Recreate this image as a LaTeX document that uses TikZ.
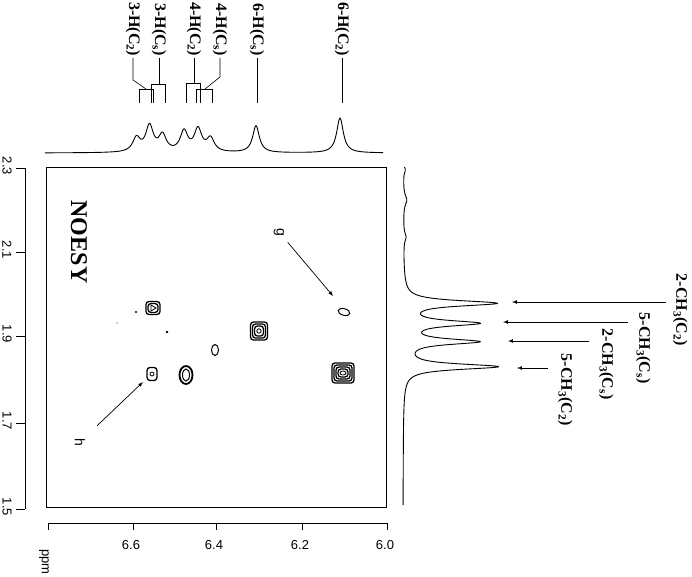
\documentclass[tikz,border=0pt]{standalone}
\usepackage{fontspec}
\setmainfont{Liberation Serif}
\setsansfont{Liberation Sans}
\tikzset{%
  lbl/.style = {rotate=-90, inner sep=1.5pt,
    font=\bfseries\fontsize{16}{19}\selectfont},
  num/.style = {inner sep=0pt, font=\sffamily\fontsize{13}{15}\selectfont},
  let/.style = {inner sep=3pt, rotate=-90, font=\sffamily\fontsize{14}{16}\selectfont},
  spec/.style = {line width=0.9pt, line join=round},
  ct/.style = {line width=1.3pt, rounded corners=3pt},
  arr/.style = {draw,-latex,line width=0.7pt}
}

\begin{document}
\begin{tikzpicture}[x=1pt,y=-1pt,line width=0.8pt,
  declare function={lz(\pos,\cen,\amp,\wid)=\amp/(1+((\pos-\cen)/\wid)^2);}]
\path[fill=white,use as bounding box] (0,0) rectangle (692,577);

% 1D spectrum on top
\draw[spec] plot[domain=45:383, samples=339] (\x, {153 - lz(\x,136.5,14,4.5)
  - lz(\x,149.5,26,4.5) - lz(\x,162.5,16.5,4.5) - lz(\x,184,20.5,4.5)
  - lz(\x,198,22.5,4.5) - lz(\x,210.5,13.5,4.5) - lz(\x,256,27,4) - lz(\x,340,35,4)});

% 1D spectrum on the right
\draw[spec] plot[variable=\t, domain=167:505, samples=677] ({403 + lz(\t,303.3,92,3.3)
  + lz(\t,323.3,72.5,3.3) + lz(\t,341.7,73,3.3) + lz(\t,366.7,94,3.3)
  + lz(\t,170,2,4) + lz(\t,200,3.5,6) + lz(\t,237,2.5,5)}, \t);

% labels on top
\node[lbl, anchor=east] (h3c2) at (133,58) {3-H(C\textsubscript{2})};
\node[lbl, anchor=east] (h3cs) at (159,58) {3-H(C\textsubscript{s})};
\node[lbl, anchor=east] (h4c2) at (194,58) {4-H(C\textsubscript{2})};
\node[lbl, anchor=east] (h4cs) at (220,58) {4-H(C\textsubscript{s})};
\node[lbl, anchor=east] (h6cs) at (257,58) {6-H(C\textsubscript{s})};
\node[lbl, anchor=east] (h6c2) at (342,58) {6-H(C\textsubscript{2})};
\begin{scope}[line width=0.6pt]
  \draw (h3c2.east) -- (133,80) -- (146,89);
  \draw (139,103) |- (153,89) -- (153,103);
  \draw (h3cs.east) -- (159,84);
  \draw (151,103) |- (165,84) -- (165,103);
  \draw (h4c2.east) -- (194,83);
  \draw (186,103) |- (200,83) -- (200,103);
  \draw (h4cs.east) -- (220,77) -- (205,89);
  \draw (196,103) |- (212,89) -- (212,103);
  \draw (h6cs.east) -- (257,103);
  \draw (h6c2.east) -- (342,103);
\end{scope}

% labels on the right
\node[lbl, anchor=south west] (m2c2) at (671,272) {2-CH\textsubscript{3}(C\textsubscript{2})};
\node[lbl, anchor=south west] (m5cs) at (634,311) {5-CH\textsubscript{3}(C\textsubscript{s})};
\node[lbl, anchor=south west] (m2cs) at (597,327) {2-CH\textsubscript{3}(C\textsubscript{s})};
\node[lbl, anchor=south west] (m5c2) at (556,352) {5-CH\textsubscript{3}(C\textsubscript{2})};
\coordinate (t1) at (512,302);
\coordinate (t2) at (503,322);
\coordinate (t3) at (508,341);
\coordinate (t4) at (517,368);
\draw[arr, shorten <=5pt] (m2c2.south |- t1) -- (t1);
\draw[arr, shorten <=6pt] (m5cs.south |- t2) -- (t2);
\draw[arr, shorten <=8pt] (m2cs.south |- t3) -- (t3);
\draw[arr, shorten <=8pt] (m5c2.south |- t4) -- (t4);

% 2D frame and axes
\draw (46,167) rectangle (386,507);
\draw (25,168) -- (25,509);
\foreach \yy/\v [count=\i] in {168/2.3,252/2.1,336/1.9,423/1.7,509/1.5} {
  \draw (25,\yy) -- ++(-9,0);
  \node[num, rotate=-90] (yl\i) at (7,\yy-2) {\v};
}
\draw (48,523) -- (387,523);
\draw (48,523) -- ++(0,7);
\foreach \xx/\v [count=\i] in {133/6.6,216/6.4,302/6.2,387/6.0} {
  \draw (\xx,523) -- ++(0,7);
  \node[num] (xl\i) at (\xx-2,545) {\v};
}
\node[num, rotate=-90, anchor=west] (ppm) at (44,549) {ppm};

\node[rotate=-90, font=\bfseries\fontsize{24}{28}\selectfont] (noesy) at (79,242) {NOESY};

% cross peaks
\foreach \w/\h in {22/20,18/16,14/12,10/8} \draw[ct] (343-\w/2,373-\h/2) rectangle ++(\w,\h);
\draw[line width=0.8pt] (343,373) ellipse (3 and 2);
\foreach \w/\h in {17/18,13/14,9/10} \draw[ct] (259-\w/2,331-\h/2) rectangle ++(\w,\h);
\draw[line width=0.8pt] (259,331) circle (2.2);
\foreach \w/\h in {14/13,10/9} \draw[ct] (153-\w/2,308-\h/2) rectangle ++(\w,\h);
\draw[line width=0.8pt] (151,305) -- (156,308) -- (151,311) -- cycle;
\draw[ct] (152-5,374-6.5) rectangle ++(10,13);
\draw[line width=0.8pt] (152,374) circle (2);
\draw[line width=1.8pt] (186,375) ellipse (6.5 and 9);
\draw[line width=1pt] (186,375) ellipse (3.5 and 6);
\draw[line width=1pt] (215,350) ellipse (3.5 and 5.5);
\draw[line width=1pt, rotate around={-15:(344,312)}] (344,312) ellipse (6 and 3.3);
\fill (136,312) circle (1.2);
\fill (167,332) circle (1.4);
\fill[black!40] (117,323) circle (0.8);

% g and h
\node[let] (g) at (279,232) {g};
\coordinate (gt) at (333,296);
\draw[arr, shorten <=4pt] (g) -- (gt);
\node[let] (h) at (80,442) {h};
\coordinate (ht) at (143,382);
\draw[arr, shorten <=13pt] (h) -- (ht);
\end{tikzpicture}
\end{document}
